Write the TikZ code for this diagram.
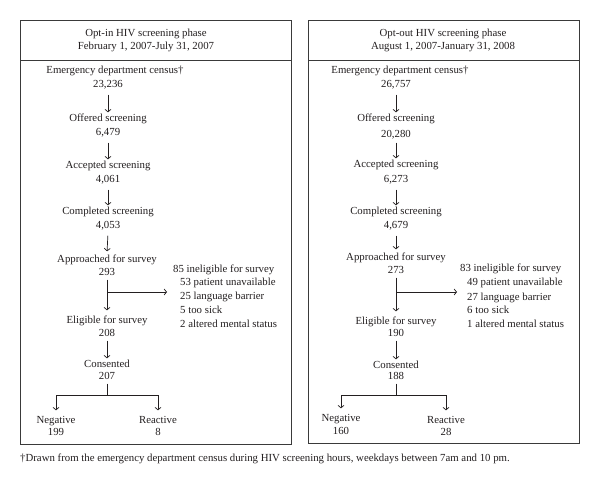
\documentclass[tikz,border=0pt]{standalone}
\usepackage{fontspec}
\setmainfont{Liberation Serif}
\usetikzlibrary{arrows.meta}
\definecolor{ink}{HTML}{231F20}
\definecolor{framec}{HTML}{3A3A3A}
\begin{document}
\begin{tikzpicture}[x=1pt,y=-1pt,
  txt/.style={inner xsep=0pt, inner ysep=2pt, text height=7pt, text depth=2pt, font=\fontsize{10.8}{14}\selectfont, text=ink},
  arr/.style={draw=ink, line width=0.7pt, -{Straight Barb[length=2.5pt,width=6pt]}},
  ln/.style={draw=ink, line width=0.7pt},
  frame/.style={draw=framec, line width=1pt}]
\useasboundingbox[fill=white] (0,0) rectangle (600,492);

% ---------- Left panel ----------
\draw[frame] (20,21) rectangle (291,444);
\draw[frame] (20,61) -- (291,61);
\node[txt] (hL1) at (146,34) {Opt-in HIV screening phase};
\node[txt] (hL2) at (146,47) {February 1, 2007-July 31, 2007};

\node[txt] (eL)  at (115,71) {Emergency department census†};
\node[txt] (eLn) at (108,85) {23,236};
\node[txt] (oL)  at (108,119) {Offered screening};
\node[txt] (oLn) at (108,133) {6,479};
\node[txt] (aL)  at (108,166) {Accepted screening};
\node[txt] (aLn) at (108,180) {4,061};
\node[txt] (cL)  at (108,212) {Completed screening};
\node[txt] (cLn) at (108,226) {4,053};
\node[txt] (pL)  at (107,260) {Approached for survey};
\node[txt] (pLn) at (107,273) {293};
\node[txt] (gL)  at (107,321) {Eligible for survey};
\node[txt] (gLn) at (107,334) {208};
\node[txt] (sL)  at (107,365) {Consented};
\node[txt] (sLn) at (107,377) {207};
\node[txt] (negL)  at (56,421) {Negative};
\node[txt] (negLn) at (56,433) {199};
\node[txt] (reaL)  at (158,421) {Reactive};
\node[txt] (reaLn) at (158,433) {8};

\node[txt,anchor=west] (iL0) at (173,270) {85 ineligible for survey};
\node[txt,anchor=west] (iL1) at (180,283) {53 patient unavailable};
\node[txt,anchor=west] (iL2) at (180,297) {25 language barrier};
\node[txt,anchor=west] (iL3) at (180,311) {5 too sick};
\node[txt,anchor=west] (iL4) at (180,325) {2 altered mental status};

\draw[arr, shorten <=3pt] (eLn.south) -- (oL.north);
\draw[arr, shorten <=3pt] (oLn.south) -- (aL.north);
\draw[arr, shorten <=3pt] (aLn.south) -- (cL.north);
\draw[arr, shorten <=3pt, shorten >=2pt] (cLn.south) -- (pL.north);
\draw[arr, shorten >=4pt] (pLn.south) -- (gL.north);
\coordinate (bL) at (107,292);
\coordinate (bLe) at (167,292);
\draw[arr] (bL) -- (bLe);
\draw[arr] (gLn.south) -- (sL.north);
\coordinate (jL) at (107,395);
\draw[ln] (sLn.south) -- (jL);
\draw[arr, shorten >=4pt] (jL) -| (negL.north);
\draw[arr, shorten >=4pt] (jL) -| (reaL.north);

% ---------- Right panel ----------
\draw[frame] (308,21) rectangle (579,443);
\draw[frame] (308,61) -- (579,61);
\node[txt] (hR1) at (443,34) {Opt-out HIV screening phase};
\node[txt] (hR2) at (443,47) {August 1, 2007-January 31, 2008};

\node[txt] (eR)  at (400,71) {Emergency department census†};
\node[txt] (eRn) at (396,85) {26,757};
\node[txt] (oR)  at (396,119) {Offered screening};
\node[txt] (oRn) at (396,135) {20,280};
\node[txt] (aR)  at (396,165) {Accepted screening};
\node[txt] (aRn) at (396,180) {6,273};
\node[txt] (cR)  at (396,212) {Completed screening};
\node[txt] (cRn) at (396,226) {4,679};
\node[txt] (pR)  at (396,258) {Approached for survey};
\node[txt] (pRn) at (396,271) {273};
\node[txt] (gR)  at (396,322) {Eligible for survey};
\node[txt] (gRn) at (396,334) {190};
\node[txt] (sR)  at (396,366) {Consented};
\node[txt] (sRn) at (396,377) {188};
\node[txt] (negR)  at (341,419) {Negative};
\node[txt] (negRn) at (341,432) {160};
\node[txt] (reaR)  at (446,421) {Reactive};
\node[txt] (reaRn) at (446,433) {28};

\node[txt,anchor=west] (iR0) at (460,269) {83 ineligible for survey};
\node[txt,anchor=west] (iR1) at (467,283) {49 patient unavailable};
\node[txt,anchor=west] (iR2) at (467,298) {27 language barrier};
\node[txt,anchor=west] (iR3) at (467,311) {6 too sick};
\node[txt,anchor=west] (iR4) at (467,325) {1 altered mental status};

\draw[arr, shorten <=3pt] (eRn.south) -- (oR.north);
\draw[arr, shorten <=1pt] (oRn.south) -- (aR.north);
\draw[arr, shorten <=3pt] (aRn.south) -- (cR.north);
\draw[arr, shorten <=3pt, shorten >=2pt] (cRn.south) -- (pR.north);
\draw[arr, shorten >=4pt] (pRn.south) -- (gR.north);
\coordinate (bR) at (396,292);
\coordinate (bRe) at (457,292);
\draw[arr] (bR) -- (bRe);
\draw[arr] (gRn.south) -- (sR.north);
\coordinate (jR) at (396,395);
\draw[ln] (sRn.south) -- (jR);
\draw[arr, shorten >=4pt] (jR) -| (negR.north);
\draw[arr, shorten >=4pt] (jR) -| (reaR.north);

% ---------- Footnote ----------
\node[txt,anchor=west] (fn) at (20,459) {†Drawn from the emergency department census during HIV screening hours, weekdays between 7am and 10 pm.};
\end{tikzpicture}
\end{document}
